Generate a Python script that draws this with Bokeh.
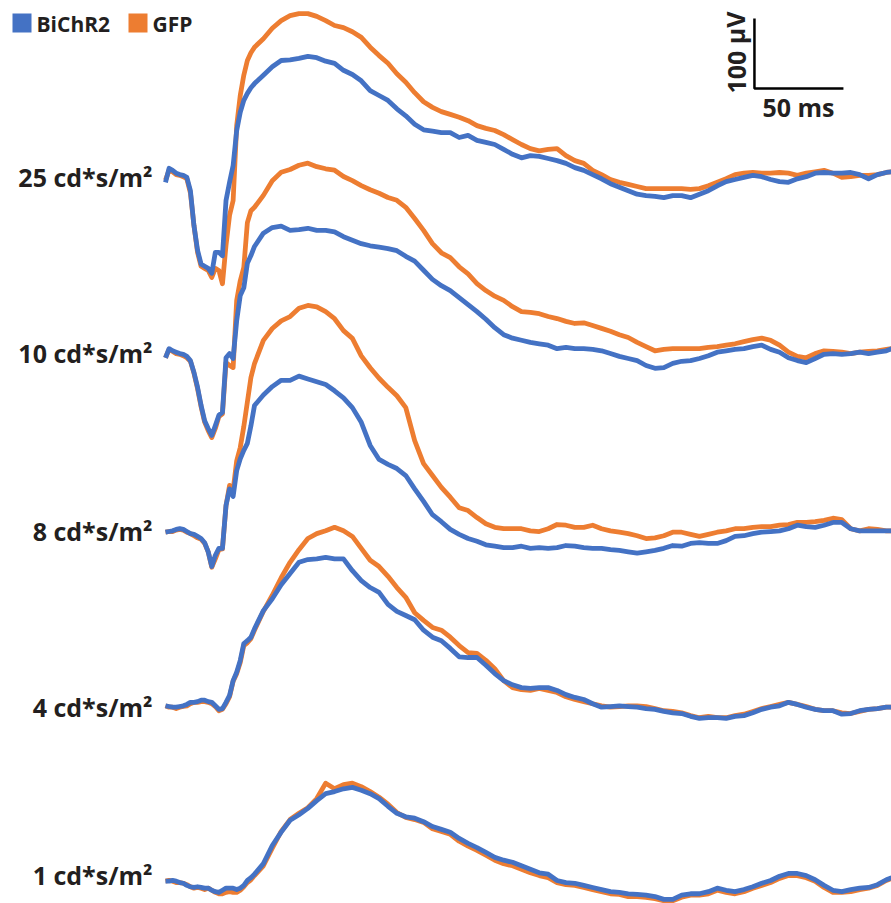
from bokeh.plotting import figure
from bokeh.models import Range1d, Label, BoxAnnotation
from bokeh.embed import file_html
from bokeh.resources import INLINE

# time after flash onset (ms)
time_ms = [0, 2, 4, 6, 8, 10, 12, 14, 16, 18, 20, 22, 24, 26, 28, 30, 32, 34, 36, 38, 40, 42, 44, 46, 48, 50,
           55, 60, 65, 70, 75, 80, 85, 90, 95, 100, 105, 110, 115, 120, 125, 130, 135, 140, 145, 150,
           155, 160, 165, 170, 175, 180, 185, 190, 195, 200, 205, 210, 215, 220, 225, 230, 235, 240, 245, 250,
           255, 260, 265, 270, 275, 280, 285, 290, 295, 300, 305, 310, 315, 320, 325, 330, 335, 340, 345, 350,
           355, 360, 365, 370, 375, 380, 385, 390, 395, 400, 405, 408]

levels = ["25 cd*s/m\u00b2", "10 cd*s/m\u00b2", "8 cd*s/m\u00b2", "4 cd*s/m\u00b2", "1 cd*s/m\u00b2"]

# ERG amplitudes (µV, relative to each trace's pre-flash level)
bichr2_25 = [-14, 6, 3, -1, -3, -4, -7, -26, -76, -111, -131, -134, -137, -144, -114, -114, -119, -40, -14, 10, 60, 86, 103, 113, 121, 127,
             139, 151, 160, 161, 163, 166, 164, 159, 156, 146,
             140, 131, 117, 110, 103, 91, 81, 69, 61, 59,
             57, 57, 50, 53, 46, 43, 40, 33, 26, 21,
             24, 23, 20, 17, 13, 7, 3, -3, -9, -16,
             -21, -26, -31, -33, -34, -36, -33, -33, -36, -31,
             -26, -19, -13, -10, -7, -4, -6, -10, -13, -14,
             -9, -6, -1, 0, -1, -1, 0, -3, -9, -3,
             0, 1]
gfp_25 = [-11, 3, 1, -3, -4, -6, -9, -29, -76, -114, -134, -137, -140, -150, -137, -140, -159, -104, -61, -40, 67, 110, 139, 160, 171, 179,
          191, 206, 217, 224, 227, 227, 223, 217, 210, 207,
          201, 193, 179, 167, 156, 141, 129, 114, 101, 93,
          87, 83, 79, 74, 67, 63, 60, 54, 47, 40,
          34, 31, 33, 34, 24, 17, 13, 3, -3, -10,
          -14, -17, -20, -23, -23, -23, -23, -23, -24, -23,
          -19, -14, -9, -3, -1, 0, -1, -1, 0, -1,
          -4, -1, 1, 3, -1, -7, -6, -4, -4, -3,
          0, 1]
bichr2_10 = [-9, 4, 1, -1, -3, -4, -7, -13, -30, -51, -77, -99, -110, -120, -106, -91, -87, -9, -3, -10, 44, 80, 91, 126, 137, 150,
             169, 177, 179, 173, 174, 176, 173, 173, 171, 164,
             159, 154, 151, 149, 147, 144, 136, 129, 116, 103,
             94, 87, 77, 67, 57, 46, 34, 24, 19, 16,
             13, 11, 9, 4, 6, 4, 4, 3, 1, -3,
             -7, -10, -13, -20, -24, -23, -17, -14, -13, -10,
             -6, -1, 1, 3, 4, 7, 9, 3, -1, -9,
             -13, -16, -10, -4, -3, -4, -3, -1, -3, -1,
             1, 4]
gfp_10 = [-9, 3, 0, -3, -4, -6, -9, -14, -31, -53, -79, -101, -113, -123, -110, -93, -89, -16, -20, -23, 73, 101, 120, 184, 201, 206,
          223, 244, 256, 260, 266, 269, 264, 261, 259, 250,
          244, 237, 231, 226, 220, 216, 206, 190, 173, 154,
          141, 134, 121, 111, 97, 87, 79, 73, 64, 57,
          56, 54, 50, 47, 43, 40, 41, 37, 33, 29,
          24, 20, 13, 7, 1, 3, 4, 4, 4, 4,
          6, 7, 9, 11, 14, 17, 19, 16, 9, -1,
          -7, -9, -3, 1, 0, -1, -3, -1, 0, 1,
          3, 4]
bichr2_8 = [-1, 0, 1, 3, 4, 3, 0, -3, -4, -7, -10, -16, -29, -50, -34, -24, -24, 37, 61, 50, 87, 104, 116, 126, 151, 180,
            195, 207, 216, 216, 222, 218, 214, 210, 201, 191,
            177, 156, 123, 103, 96, 90, 80, 61, 43, 24,
            14, 3, -4, -10, -14, -19, -21, -23, -23, -21,
            -24, -23, -24, -23, -20, -21, -23, -24, -24, -26,
            -27, -29, -31, -29, -27, -24, -20, -21, -17, -16,
            -17, -17, -13, -7, -6, -3, -1, 0, 1, 4,
            9, 7, 6, 9, 13, 13, 4, 1, 1, 1,
            1, 1]
gfp_8 = [-1, 0, 0, 2, 3, 2, -1, -3, -6, -9, -11, -17, -29, -51, -39, -26, -25, 37, 66, 59, 101, 120, 150, 185, 220, 240,
         273, 290, 301, 307, 319, 323, 321, 314, 304, 287,
         276, 251, 234, 219, 206, 194, 177, 130, 97, 80,
         63, 49, 34, 30, 20, 11, 6, 4, 4, 4,
         1, 0, 4, 10, 9, 6, 6, 9, 4, 1,
         -1, -3, -6, -10, -9, -6, -1, -1, -4, -7,
         -4, -1, 1, 4, 4, 6, 7, 7, 9, 10,
         13, 13, 14, 16, 19, 17, 4, 1, 4, 3,
         1, 1]
bichr2_4 = [1, 0, -1, -1, 0, 1, 3, 6, 6, 7, 9, 9, 7, 6, 1, -4, -3, 6, 16, 37, 49, 66, 90, 94, 99, 111,
            137, 154, 174, 190, 206, 210, 211, 213, 211, 211,
            194, 180, 170, 163, 146, 136, 130, 124, 109, 99,
            94, 83, 71, 70, 70, 59, 47, 37, 31, 27,
            26, 27, 27, 23, 17, 13, 10, 4, -1, 0,
            1, 0, -1, -3, -4, -7, -9, -10, -14, -17,
            -16, -16, -17, -14, -13, -9, -4, -1, 1, 6,
            3, -1, -4, -6, -6, -11, -10, -6, -4, -3,
            -1, -1]
gfp_4 = [1, -1, -1, -3, -1, 0, 1, 4, 6, 6, 7, 7, 6, 4, 0, -6, -4, 4, 14, 36, 47, 63, 87, 91, 97, 109,
         136, 159, 184, 206, 224, 240, 247, 251, 256, 251,
         243, 226, 209, 200, 186, 170, 156, 134, 123, 113,
         109, 99, 87, 77, 76, 66, 54, 37, 27, 24,
         23, 26, 23, 20, 14, 10, 7, 4, 1, -1,
         0, 1, 1, 0, -3, -6, -7, -9, -13, -16,
         -14, -16, -16, -13, -11, -7, -3, 0, 3, 6,
         3, 0, -4, -6, -6, -9, -10, -7, -4, -3,
         -1, -1]
bichr2_1 = [-1, -1, 0, -1, -3, -4, -7, -9, -10, -9, -10, -11, -11, -14, -16, -17, -14, -11, -11, -11, -13, -11, -7, 0, 4, 9,
            24, 50, 69, 86, 94, 103, 114, 124, 127, 131,
            133, 129, 124, 117, 106, 96, 91, 89, 84, 77,
            73, 69, 60, 53, 47, 40, 33, 29, 26, 21,
            16, 11, 9, 0, -3, -4, -7, -10, -13, -16,
            -17, -19, -20, -21, -23, -27, -27, -21, -19, -19,
            -16, -11, -14, -16, -13, -9, -4, 0, 6, 10,
            10, 7, 1, -7, -14, -16, -13, -11, -10, -6,
            1, 4]
gfp_1 = [-1, 0, -1, -3, -3, -4, -6, -9, -11, -10, -11, -13, -11, -14, -17, -19, -19, -17, -16, -17, -17, -14, -9, -3, 1, 7,
         21, 46, 70, 87, 96, 104, 117, 139, 131, 137,
         139, 134, 127, 119, 109, 97, 90, 87, 83, 74,
         70, 66, 56, 49, 43, 36, 29, 24, 21, 16,
         11, 7, 4, -3, -6, -7, -10, -13, -16, -19,
         -20, -23, -23, -24, -26, -29, -29, -24, -21, -21,
         -19, -14, -17, -19, -16, -11, -7, -3, 3, 7,
         7, 4, -1, -10, -17, -17, -16, -13, -11, -7,
         0, 3]

bichr2 = [bichr2_25, bichr2_10, bichr2_8, bichr2_4, bichr2_1]
gfp = [gfp_25, gfp_10, gfp_8, gfp_4, gfp_1]
for s in bichr2 + gfp:
    assert len(s) == len(time_ms), len(s)

# layout: vertical stacking of traces (µV) and scale bar
trace_offset_uv = [1044.3, 788.6, 531.4, 281.4, 32.9]
scale_x_ms, scale_y_uv = 330.9, 1164.3
scale_len_ms, scale_len_uv = 50, 100

BLUE = "#4472C4"
ORANGE = "#ED7D31"
FONT = "Open Sans"
TXT = "#231f20"

W, H = 891, 903
p = figure(width=W, height=H, output_backend="svg", toolbar_location=None,
           x_range=Range1d(-92.7, 407.9), y_range=Range1d(0, 1290),
           x_axis_type=None, y_axis_type=None, min_border=0)
p.grid.visible = False
p.outline_line_color = None
p.background_fill_color = "white"
p.border_fill_color = "white"

for off, g in zip(trace_offset_uv, gfp):
    p.line(time_ms, [v + off for v in g], line_color=ORANGE, line_width=4.8, line_join="round")
for off, b in zip(trace_offset_uv, bichr2):
    p.line(time_ms, [v + off for v in b], line_color=BLUE, line_width=4.8, line_join="round")

# level labels
label_y = [727, 551, 373, 197, 29]
for txt, ly in zip(levels, label_y):
    p.add_layout(Label(x=152, y=ly, x_units="screen", y_units="screen", text=txt,
                       text_font=FONT, text_font_style="bold", text_font_size="25px",
                       text_color=TXT, text_align="right", text_baseline="middle"))

# legend
p.add_layout(BoxAnnotation(left=12, right=31, bottom=871, top=890,
                           left_units="screen", right_units="screen", bottom_units="screen", top_units="screen",
                           fill_color=BLUE, fill_alpha=1, line_color=None))
p.add_layout(BoxAnnotation(left=128, right=147, bottom=871, top=890,
                           left_units="screen", right_units="screen", bottom_units="screen", top_units="screen",
                           fill_color=ORANGE, fill_alpha=1, line_color=None))
p.add_layout(Label(x=36, y=880, x_units="screen", y_units="screen", text="BiChR2",
                   text_font=FONT, text_font_style="bold", text_font_size="21px",
                   text_color=TXT, text_align="left", text_baseline="middle"))
p.add_layout(Label(x=152, y=880, x_units="screen", y_units="screen", text="GFP",
                   text_font=FONT, text_font_style="bold", text_font_size="21px",
                   text_color=TXT, text_align="left", text_baseline="middle"))

# scale bar
p.line([scale_x_ms, scale_x_ms, scale_x_ms + scale_len_ms],
       [scale_y_uv + scale_len_uv, scale_y_uv, scale_y_uv], line_color="black", line_width=2.5)
p.add_layout(Label(x=798, y=797, x_units="screen", y_units="screen", text="50 ms",
                   text_font=FONT, text_font_style="bold", text_font_size="25px",
                   text_color=TXT, text_align="center", text_baseline="middle"))
p.add_layout(Label(x=735, y=851, x_units="screen", y_units="screen", text="100 \u00b5V", angle=1.5708,
                   text_font=FONT, text_font_style="bold", text_font_size="25px",
                   text_color=TXT, text_align="center", text_baseline="middle"))

open("out.html", "w").write(file_html(p, INLINE))
